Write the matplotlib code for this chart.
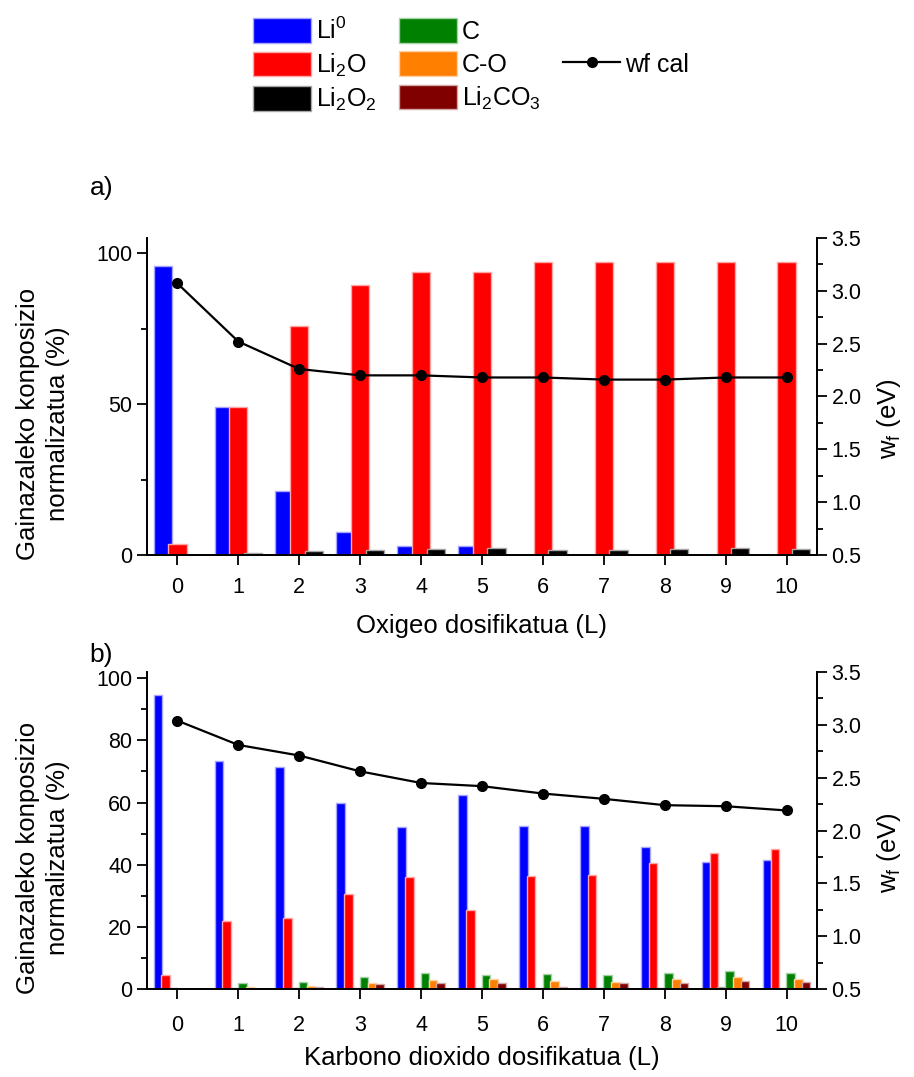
import matplotlib
matplotlib.use("Agg")
import numpy as np
import matplotlib.pyplot as plt
from matplotlib.patches import Patch
from matplotlib.lines import Line2D
from matplotlib.colors import to_rgb

# === SETTINGS ===
plt.rcParams['font.family'] = ['Liberation Sans', 'DejaVu Sans']
plt.rcParams['mathtext.fontset'] = 'custom'
plt.rcParams['mathtext.rm'] = 'Liberation Sans'
plt.rcParams['mathtext.it'] = 'Liberation Sans:italic'
plt.rcParams['mathtext.default'] = 'regular'

LABEL_FS = 18.5
TICK_FS = 15.5

# === DATA ===
doses = np.arange(11)
dose_labels = [str(d) for d in doses]

# a) oxygen dosing
o2_li0 = [95.6, 48.9, 21.3, 7.5, 3.1, 3.1, 0, 0, 0, 0, 0]
o2_li2o = [3.7, 49.1, 75.8, 89.6, 93.8, 93.6, 97.2, 97.2, 97.1, 96.9, 97.0]
o2_li2o2 = [0, 0.8, 1.4, 1.7, 1.9, 2.2, 1.8, 1.8, 2.0, 2.2, 2.1]
o2_wf = [3.07, 2.52, 2.26, 2.20, 2.20, 2.18, 2.18, 2.16, 2.16, 2.18, 2.18]

# b) CO2 dosing
co2_li0 = [94.6, 73.5, 71.4, 60.0, 52.0, 62.5, 52.4, 52.4, 45.7, 40.8, 41.4]
co2_li2o = [4.6, 21.9, 22.9, 30.6, 36.1, 25.5, 36.3, 36.7, 40.5, 43.9, 44.9]
co2_li2o2 = [0.3, 0.3, 0.3, 0.2, 0.3, 0.4, 0.3, 0.2, 0.2, 0.5, 0.4]
co2_c = [0, 2.0, 2.4, 3.9, 5.0, 4.4, 4.8, 4.4, 5.2, 5.8, 5.0]
co2_co = [0, 0.75, 1.1, 1.8, 2.9, 3.1, 2.7, 2.4, 3.3, 3.8, 3.3]
co2_li2co3 = [0, 0, 0.5, 1.6, 1.8, 1.8, 0.75, 1.8, 2.0, 2.7, 2.3]
co2_wf = [3.04, 2.81, 2.71, 2.56, 2.45, 2.42, 2.35, 2.30, 2.24, 2.23, 2.19]

names = ['Li$^0$', 'Li$_2$O', 'Li$_2$O$_2$', 'C', 'C-O', 'Li$_2$CO$_3$']
colors = ['#0000ff', '#ff0000', '#000000', '#008000', '#ff8000', '#800000']


def pale(c, f=0.65):
    r, g, b = to_rgb(c)
    return (r + (1 - r) * f, g + (1 - g) * f, b + (1 - b) * f)


def style_axes(ax, ax2, ymax, major, minor):
    ax.set_xlim(-0.5, 10.5)
    ax.set_ylim(0, ymax)
    ax2.set_ylim(0.5, 3.5)
    ax.set_xticks(doses)
    ax.set_xticklabels(dose_labels)
    ax.set_yticks(np.arange(0, ymax, major))
    ax.set_yticks(np.arange(0, ymax, minor), minor=True)
    ax2.set_yticks(np.arange(0.5, 3.51, 0.5))
    ax2.set_yticks(np.arange(0.5, 3.51, 0.25), minor=True)
    ax2.yaxis.set_major_formatter(plt.FormatStrFormatter('%.1f'))
    for a in (ax, ax2):
        a.spines['top'].set_visible(False)
        for s in a.spines.values():
            s.set_linewidth(1.3)
        a.tick_params(which='both', direction='out', width=1.3, labelsize=TICK_FS)
        a.tick_params(which='major', length=7)
        a.tick_params(which='minor', length=4)
    ax.tick_params(axis='x', pad=9)
    ax.set_ylabel('Gainazaleko konposizio\nnormalizatua (%)', fontsize=LABEL_FS,
                  linespacing=1.3)
    ax.yaxis.set_label_coords(-0.115, 0.415)
    ax2.set_ylabel('w$_f$ (eV)', fontsize=LABEL_FS)
    ax2.yaxis.set_label_coords(1.087, 0.43)


fig = plt.figure(figsize=(9.14, 10.77), dpi=100)
ax1 = fig.add_axes([0.1608, 0.4847, 0.7331, 0.2943])
ax1b = ax1.twinx()
ax2 = fig.add_axes([0.1608, 0.0817, 0.7331, 0.2943])
ax2b = ax2.twinx()

# a) three bars per dose
w_a = 0.30
off_a = [-0.24, 0.0, 0.24]
for vals, c, off in zip([o2_li0, o2_li2o, o2_li2o2], colors[:3], off_a):
    ax1.bar(doses + off, vals, width=w_a, color=c, edgecolor=pale(c), linewidth=1.0)
ax1b.plot(doses, o2_wf, color='black', lw=1.6, marker='o', markersize=7)
style_axes(ax1, ax1b, 105, 50, 25)
ax1.set_xlabel('Oxigeo dosifikatua (L)', fontsize=LABEL_FS)
ax1.xaxis.set_label_coords(0.5, -0.185)

# b) six bars per dose
w_b = 0.14
step = 0.128
series_b = [co2_li0, co2_li2o, co2_li2o2, co2_c, co2_co, co2_li2co3]
for i, (vals, c) in enumerate(zip(series_b, colors)):
    ax2.bar(doses + (i - 2.5) * step, vals, width=w_b, color=c, edgecolor=pale(c), linewidth=1.0)
ax2b.plot(doses, co2_wf, color='black', lw=1.6, marker='o', markersize=7)
style_axes(ax2, ax2b, 102, 20, 10)
ax2.tick_params(axis='x', pad=12)
ax2.set_xlabel('Karbono dioxido dosifikatua (L)', fontsize=LABEL_FS)
ax2.xaxis.set_label_coords(0.5, -0.18)

fig.text(0.098, 0.825, 'a)', fontsize=19, va='center')
fig.text(0.098, 0.392, 'b)', fontsize=19, va='center')

# legend: two columns of bars plus wf line
handles = [Patch(facecolor=c, edgecolor=pale(c)) for c in colors]
blank = Patch(facecolor='none', edgecolor='none')
wf_handle = Line2D([], [], color='black', lw=1.6, marker='o', markersize=7)
leg_handles = handles + [blank, wf_handle, blank]
leg_labels = names + ['', 'wf cal', '']
fig.legend(leg_handles, leg_labels, ncol=3, loc='upper left',
           bbox_to_anchor=(0.258, 1.0), frameon=False, fontsize=18,
           handlelength=2.3, handleheight=1.12, handletextpad=0.2,
           columnspacing=0.9, labelspacing=0.3, borderaxespad=0.3)

fig.savefig('out.png', dpi=100)
